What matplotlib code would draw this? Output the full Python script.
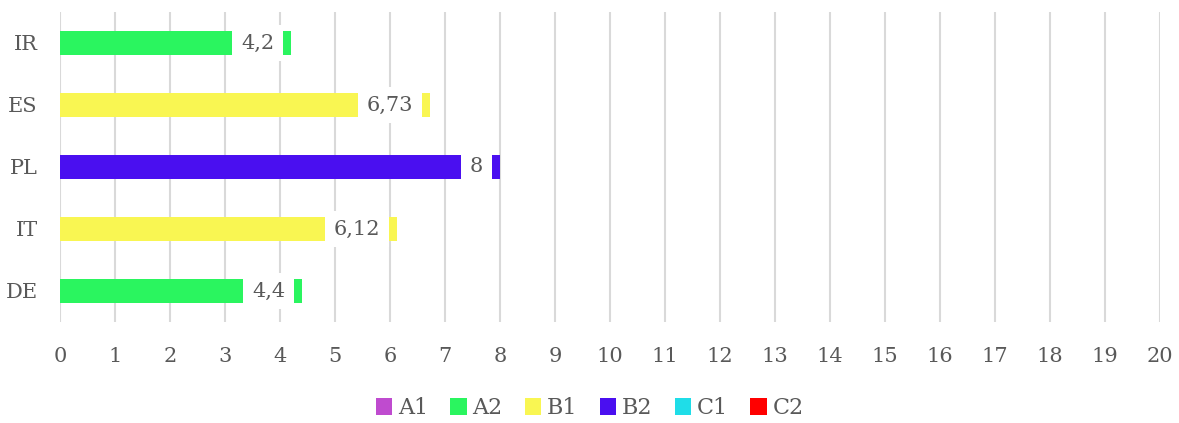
import matplotlib.pyplot as plt
from matplotlib.patches import Patch

categories = ['DE', 'IT', 'PL', 'ES', 'IR']
values = [4.4, 6.12, 8, 6.73, 4.2]
levels = ['A2', 'B1', 'B2', 'B1', 'A2']

level_names = ['A1', 'A2', 'B1', 'B2', 'C1', 'C2']
level_colors = ['#bf4bcf', '#2af55f', '#f9f652', '#4a0ff0', '#1fdde8', '#ff0000']
color_of = dict(zip(level_names, level_colors))

plt.rcParams['font.family'] = ['DejaVu Serif']
text_color = '#595959'

fig = plt.figure(figsize=(11.79, 4.23), dpi=100)
ax = fig.add_axes([60 / 1179, 101 / 423, 1100 / 1179, 310 / 423])

ypos = range(len(categories))
ax.barh(ypos, values, height=0.39, color=[color_of[l] for l in levels], zorder=2)

# data labels with white box, sitting just inside the bar end
for y, v in zip(ypos, values):
    ax.annotate(f'{v:g}'.replace('.', ','), xy=(v, y), xytext=(-12, 0),
                textcoords='offset points', ha='right', va='center',
                fontsize=15, color=text_color, zorder=3,
                bbox=dict(boxstyle='square,pad=0.42', fc='white', ec='none'))

ax.set_xlim(0, 20)
ax.set_ylim(-0.5, len(categories) - 0.5)
ax.set_xticks(range(0, 21))
ax.set_yticks(list(ypos))
ax.set_yticklabels(categories)
ax.tick_params(axis='both', length=0, labelsize=15, colors=text_color)
ax.tick_params(axis='x', pad=18)
ax.tick_params(axis='y', pad=16)
ax.grid(axis='x', color='#d9d9d9', linewidth=1.5, zorder=0)
ax.set_axisbelow(True)
for s in ax.spines.values():
    s.set_visible(False)

handles = [Patch(facecolor=c, edgecolor='none') for c in level_colors]
fig.legend(handles, level_names, loc='center', bbox_to_anchor=(0.5, 0.035), ncol=6,
           frameon=False, fontsize=16, labelcolor=text_color,
           handlelength=0.75, handleheight=0.75, handletextpad=0.25, columnspacing=1.0)

fig.savefig('out.png', dpi=100)
